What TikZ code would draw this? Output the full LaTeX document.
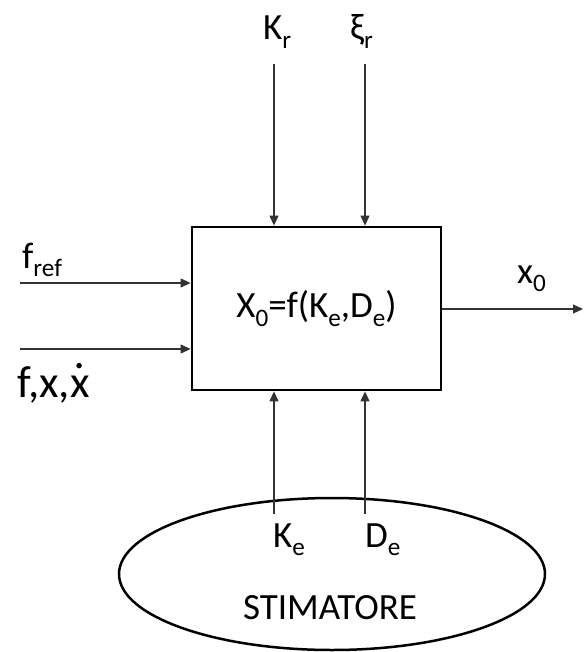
\documentclass[tikz,border=0pt]{standalone}
\usepackage{fontspec}
\usepackage{graphicx}
\setmainfont{Carlito}
\usetikzlibrary{shapes.geometric,arrows.meta}
\newcommand\sbs[1]{\raisebox{-0.22em}{\scalebox{0.68}{#1}}}
\newcommand\xdotted{\ooalign{x\cr\hidewidth\raisebox{0.05em}{˙}\hidewidth}}
\begin{document}
\begin{tikzpicture}[x=1pt,y=-1pt,
    lbl/.style={font=\fontsize{37}{40}\selectfont, inner sep=0pt, anchor=base west},
    sig/.style={-{Triangle[length=10pt,width=9pt]}, line width=1.2pt, black!80}]
  \useasboundingbox (0,0) rectangle (583,652);

  % blocco di regolazione
  \node[draw, line width=2.8pt, minimum width=249pt, minimum height=163pt,
        inner sep=0pt, font=\fontsize{37}{40}\selectfont] (reg) at (316.5,308.5)
        {X\sbs{0}=f(K\sbs{e},D\sbs{e})};

  % stimatore
  \node[draw, ellipse, line width=2.5pt, minimum width=426pt, minimum height=152pt,
        inner sep=0pt] (stim) at (332,574) {};
  \node[lbl, anchor=base] (stimtxt) at (330,619) {STIMATORE};

  % parametri di riferimento dall'alto
  \node[lbl] (Kr) at (263,40) {K\sbs{r}};
  \node[lbl] (xir) at (350,40) {ξ\sbs{r}};
  \coordinate (krin) at (274,64);
  \coordinate (xirin) at (365,64);
  \draw[sig] (krin) -- (krin |- reg.north);
  \draw[sig] (xirin) -- (xirin |- reg.north);

  % stime dal basso
  \node[lbl] (Ke) at (273,547) {K\sbs{e}};
  \node[lbl] (De) at (365,547) {D\sbs{e}};
  \coordinate (kein) at (274,514);
  \coordinate (dein) at (365,514);
  \draw[sig] (kein) -- (kein |- reg.south);
  \draw[sig] (dein) -- (dein |- reg.south);

  % ingressi a sinistra
  \node[lbl] (fref) at (22,268) {f\sbs{ref}};
  \node[lbl, font=\fontsize{45}{48}\selectfont] (fx) at (17,397) {f,x,\xdotted};
  \coordinate (frefin) at (20,283);
  \coordinate (fxin) at (20,349);
  \draw[sig] (frefin) -- (frefin -| reg.west);
  \draw[sig] (fxin) -- (fxin -| reg.west);

  % uscita
  \node[lbl] (x0) at (517,283) {x\sbs{0}};
  \coordinate (xout) at (583,309);
  \draw[sig] (reg.east |- xout) -- (xout);
\end{tikzpicture}
\end{document}
